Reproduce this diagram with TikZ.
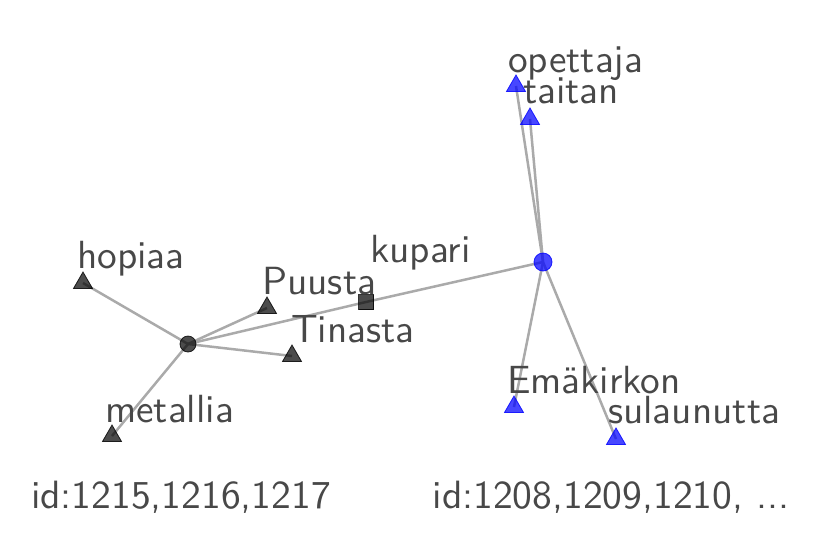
\documentclass[tikz,border=0pt]{standalone}
\usetikzlibrary{shapes.geometric,backgrounds}
\definecolor{txtgray}{RGB}{72,72,72}
\definecolor{edgegray}{RGB}{170,170,170}
\newcommand{\lbltext}[2][3.93]{\scalebox{#1}{\sffamily\fontsize{10}{12}\selectfont #2}}
\begin{document}
\begin{tikzpicture}[
			x=1pt,y=-1pt,
			edge/.style={draw=edgegray,line width=2.5pt},
			blk/.style={fill=black,fill opacity=0.7,draw=black,draw opacity=0.8,line width=0.8pt},
			blu/.style={fill=blue,fill opacity=0.72,draw=blue,draw opacity=0.8,line width=0.8pt},
			hub/.style={circle,inner sep=0pt,minimum size=16pt},
			tri/.style={regular polygon,regular polygon sides=3,inner sep=0pt,minimum size=22pt},
			sq/.style={rectangle,inner sep=0pt,minimum size=15pt},
			lbl/.style={anchor=base west,inner sep=0pt,text=txtgray}
		]
		\useasboundingbox (0,0) rectangle (831,542);
		% nodes
		\node[hub,blk] (hubL) at (188,344) {};
		\node[hub,blu,minimum size=18pt] (hubR) at (543,262) {};
		\node[sq,blk] (kupari) at (366,302) {};
		\node[tri,blk] (hopiaa) at (83,283) {};
		\node[tri,blk] (puusta) at (267,308) {};
		\node[tri,blk] (tinasta) at (292,356) {};
		\node[tri,blk] (metallia) at (112,436) {};
		\node[tri,blu] (opettaja) at (516,86) {};
		\node[tri,blu] (taitan) at (530,119) {};
		\node[tri,blu] (emakirkon) at (514,407) {};
		\node[tri,blu] (sulaunutta) at (616,439) {};
		% edges
		\begin{scope}[on background layer]
			\draw[edge] (hubL.center) -- (hopiaa.center);
			\draw[edge] (hubL.center) -- (puusta.center);
			\draw[edge] (hubL.center) -- (tinasta.center);
			\draw[edge] (hubL.center) -- (metallia.center);
			\draw[edge] (hubL.center) -- (kupari.center);
			\draw[edge] (kupari.center) -- (hubR.center);
			\draw[edge] (hubR.center) -- (opettaja.center);
			\draw[edge] (hubR.center) -- (taitan.center);
			\draw[edge] (hubR.center) -- (emakirkon.center);
			\draw[edge] (hubR.center) -- (sulaunutta.center);
		\end{scope}
		% labels
		\node[lbl] at ([shift={(-6,-15)}]hopiaa.center) {\lbltext{hopiaa}};
		\node[lbl] at ([shift={(-5,-14)}]puusta.center) {\lbltext{Puusta}};
		\node[lbl] at ([shift={(-1,-14)}]tinasta.center) {\lbltext{Tinasta}};
		\node[lbl] at ([shift={(-7,-14)}]metallia.center) {\lbltext{metallia}};
		\node[lbl] at ([shift={(4,-40)}]kupari.center) {\lbltext{kupari}};
		\node[lbl] at ([shift={(-8,-14)}]opettaja.center) {\lbltext{opettaja}};
		\node[lbl] at ([shift={(-7,-16)}]taitan.center) {\lbltext{taitan}};
		\node[lbl] at ([shift={(-7,-14)}]emakirkon.center) {\lbltext{Emäkirkon}};
		\node[lbl] at ([shift={(-8,-16)}]sulaunutta.center) {\lbltext{sulaunutta}};
		\node[lbl,anchor=base] (idL) at (181,508) {\lbltext[3.95]{id:1215,1216,1217}};
		\node[lbl,anchor=base] (idR) at (611,508) {\lbltext[3.95]{id:1208,1209,1210, ...}};
\end{tikzpicture}
\end{document}
